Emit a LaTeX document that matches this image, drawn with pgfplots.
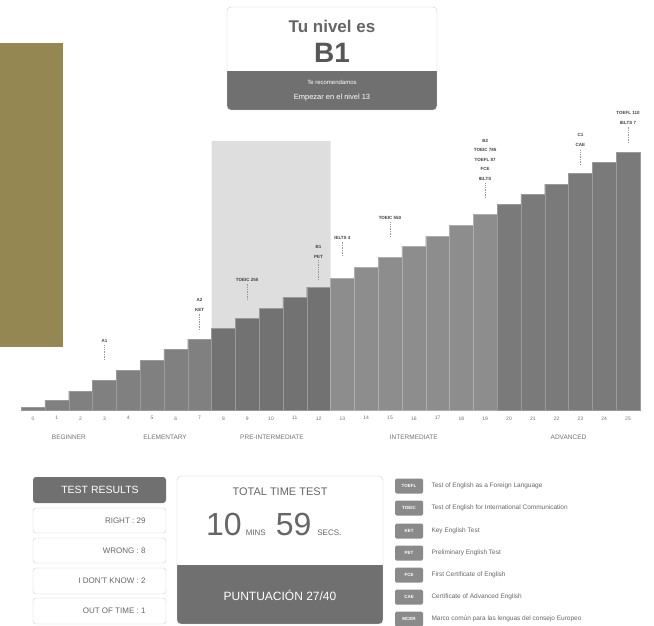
\documentclass[border=0pt]{standalone}
\usepackage{pgfplots}
\pgfplotsset{compat=1.18}
\usepackage{fontspec}
\setmainfont{Liberation Sans}

\definecolor{olive}{HTML}{948752}
\definecolor{barA}{HTML}{808080}
\definecolor{barB}{HTML}{727272}
\definecolor{barC}{HTML}{8D8D8D}
\definecolor{barD}{HTML}{7A7A7A}
\definecolor{sep}{HTML}{9A9A9A}
\definecolor{hl}{HTML}{DEDEDE}
\definecolor{boxdark}{HTML}{707070}
\definecolor{boxline}{HTML}{CFCFCF}
\definecolor{txtgray}{HTML}{666666}
\definecolor{tickgray}{HTML}{707070}
\definecolor{tag}{HTML}{8A8A8A}

\newcommand\fs[1]{\fontsize{#1}{#1}\selectfont}

\begin{document}
\begin{tikzpicture}[x=1pt,y=-1pt]
\path[use as bounding box] (0,0) rectangle (654,626);

% olive block on the left
\fill[olive] (0,43) rectangle (63,347);

% level box
\begin{scope}
  \clip[rounded corners=4pt] (227,7) rectangle (437,110);
  \fill[white] (227,7) rectangle (437,71);
  \fill[boxdark] (227,71) rectangle (437,110);
\end{scope}
\draw[boxline, rounded corners=4pt] (227,7) rectangle (437,110);
\node[text=txtgray, font=\fs{17}\bfseries] at (332,26) {Tu nivel es};
\node[text=txtgray!85!black, font=\fs{28}\bfseries] at (332,53) {B1};
\node[text=white, font=\fs{6}] at (332,82) {Te recomendamos};
\node[text=white, font=\fs{7.5}] at (332,98) {Empezar en el nivel 13};

\begin{axis}[
    at={(21.1pt,-410pt)}, anchor=south west,
    scale only axis, width=618.8pt, height=300pt,
    xmin=-0.5, xmax=25.5, ymin=0, ymax=300,
    axis x line=bottom, axis y line=none,
    x axis line style={-, draw=sep, line width=1.2pt},
    xtick={0,...,25}, major tick length=0pt,
    xticklabel style={font=\fs{5}, text=tickgray, yshift=-3pt},
    /pgf/number format/assume math mode=true,
    clip=false,
  ]
  % recommended band (levels 8-12)
  \addplot[fill=hl, draw=none] coordinates {(7.5,0) (7.5,269) (12.5,269) (12.5,0)} \closedcycle;

  \addplot[ybar, bar width=1, fill=barA, draw=sep, line width=0.4pt] coordinates {
    (0,3) (1,10) (2,19) (3,30) (4,40) (5,50) (6,61) (7,71)};
  \addplot[ybar, bar width=1, fill=barB, draw=sep, line width=0.4pt] coordinates {
    (8,82) (9,92) (10,102) (11,113) (12,123)};
  \addplot[ybar, bar width=1, fill=barC, draw=sep!80!white, line width=0.4pt] coordinates {
    (13,132) (14,143) (15,153) (16,164) (17,174) (18,185) (19,196)};
  \addplot[ybar, bar width=1, fill=barD, draw=sep, line width=0.4pt] coordinates {
    (20,206) (21,216) (22,226) (23,237) (24,248) (25,258)};

  % exam markers
  \tikzset{mk/.style={draw=gray!80, line width=0.6pt, dash pattern=on 1pt off 0.7pt},
           lb/.style={anchor=south, align=center, text=black!75, inner sep=0.5pt,
                      font=\fontsize{4.5}{9.5}\selectfont\bfseries}}
  \draw[mk] (axis cs:3,50) -- (axis cs:3,65);
  \node[lb] at (axis cs:3,67) {A1};
  \draw[mk] (axis cs:7,80) -- (axis cs:7,97);
  \node[lb] at (axis cs:7,98) {A2\\KET};
  \draw[mk] (axis cs:9,110) -- (axis cs:9,126);
  \node[lb] at (axis cs:9,128) {TOEIC 255};
  \draw[mk] (axis cs:12,130) -- (axis cs:12,150);
  \node[lb] at (axis cs:12,151) {B1\\PET};
  \draw[mk] (axis cs:13,154) -- (axis cs:13,168);
  \node[lb] at (axis cs:13,170) {IELTS 4};
  \draw[mk] (axis cs:15,173) -- (axis cs:15,188);
  \node[lb] at (axis cs:15,190) {TOEIC 550};
  \draw[mk] (axis cs:19,212) -- (axis cs:19,227);
  \node[lb] at (axis cs:19,229) {B2\\TOEIC 785\\TOEFL 87\\FCE\\IELTS};
  \draw[mk] (axis cs:23,245) -- (axis cs:23,260);
  \node[lb] at (axis cs:23,263) {C1\\CAE};
  \draw[mk] (axis cs:25,267) -- (axis cs:25,283);
  \node[lb] at (axis cs:25,285) {TOEFL 110\\IELTS 7};

  % level groups
  \tikzset{grp/.style={font=\fs{6.5}, text=tickgray, yshift=-27pt}}
  \node[grp] at (axis cs:1.51,0) {BEGINNER};
  \node[grp] at (axis cs:5.55,0) {ELEMENTARY};
  \node[grp] at (axis cs:10.04,0) {PRE-INTERMEDIATE};
  \node[grp] at (axis cs:16.0,0) {INTERMEDIATE};
  \node[grp] at (axis cs:22.5,0) {ADVANCED};
\end{axis}

% test results
\fill[boxdark, rounded corners=3pt] (33,477) rectangle (166,503);
\node[text=white, font=\fs{10.5}] at (100,490) {TEST RESULTS};
\foreach \ya/\yb/\t in {508/533/{RIGHT : 29}, 538/563/{WRONG : 8},
                        568/594/{I DON'T KNOW : 2}, 598/624/{OUT OF TIME : 1}} {
  \draw[boxline, fill=white, rounded corners=3pt] (33,\ya) rectangle (166,\yb);
  \node[anchor=east, text=txtgray, font=\fs{8}] at (149,{(\ya+\yb)/2}) {\t};
}

% time box
\begin{scope}
  \clip[rounded corners=4pt] (177,476) rectangle (383,624);
  \fill[white] (177,476) rectangle (383,565);
  \fill[boxdark] (177,565) rectangle (383,624);
\end{scope}
\draw[boxline, rounded corners=4pt] (177,476) rectangle (383,624);
\node[text=txtgray, font=\fs{11}] at (280,492) {TOTAL TIME TEST};
\node[anchor=base west, text=txtgray, font=\fs{32}, inner sep=0pt] at (206,535)
  {10{\fs{8}\hspace{4pt}MINS\hspace{10pt}}59{\fs{8}\hspace{6pt}SECS.}};
\node[text=white, font=\fs{12}] at (280,595) {PUNTUACIÓN 27/40};

% glossary
\foreach \y/\k/\t in {486/TOEFL/Test of English as a Foreign Language,
                      508/TOEIC/Test of English for International Communication,
                      531/KET/Key English Test,
                      553/PET/Preliminary English Test,
                      575/FCE/First Certificate of English,
                      597/CAE/Certificate of Advanced English,
                      619/MCER/Marco común para las lenguas del consejo Europeo} {
  \fill[tag, rounded corners=1.5pt] (395,\y-7.5) rectangle (423,\y+7.5);
  \node[text=white, font=\fs{4.5}\bfseries] at (409,\y) {\k};
  \node[anchor=west, text=txtgray, font=\fs{6.5}] at (428,\y) {\t};
}
\end{tikzpicture}
\end{document}
